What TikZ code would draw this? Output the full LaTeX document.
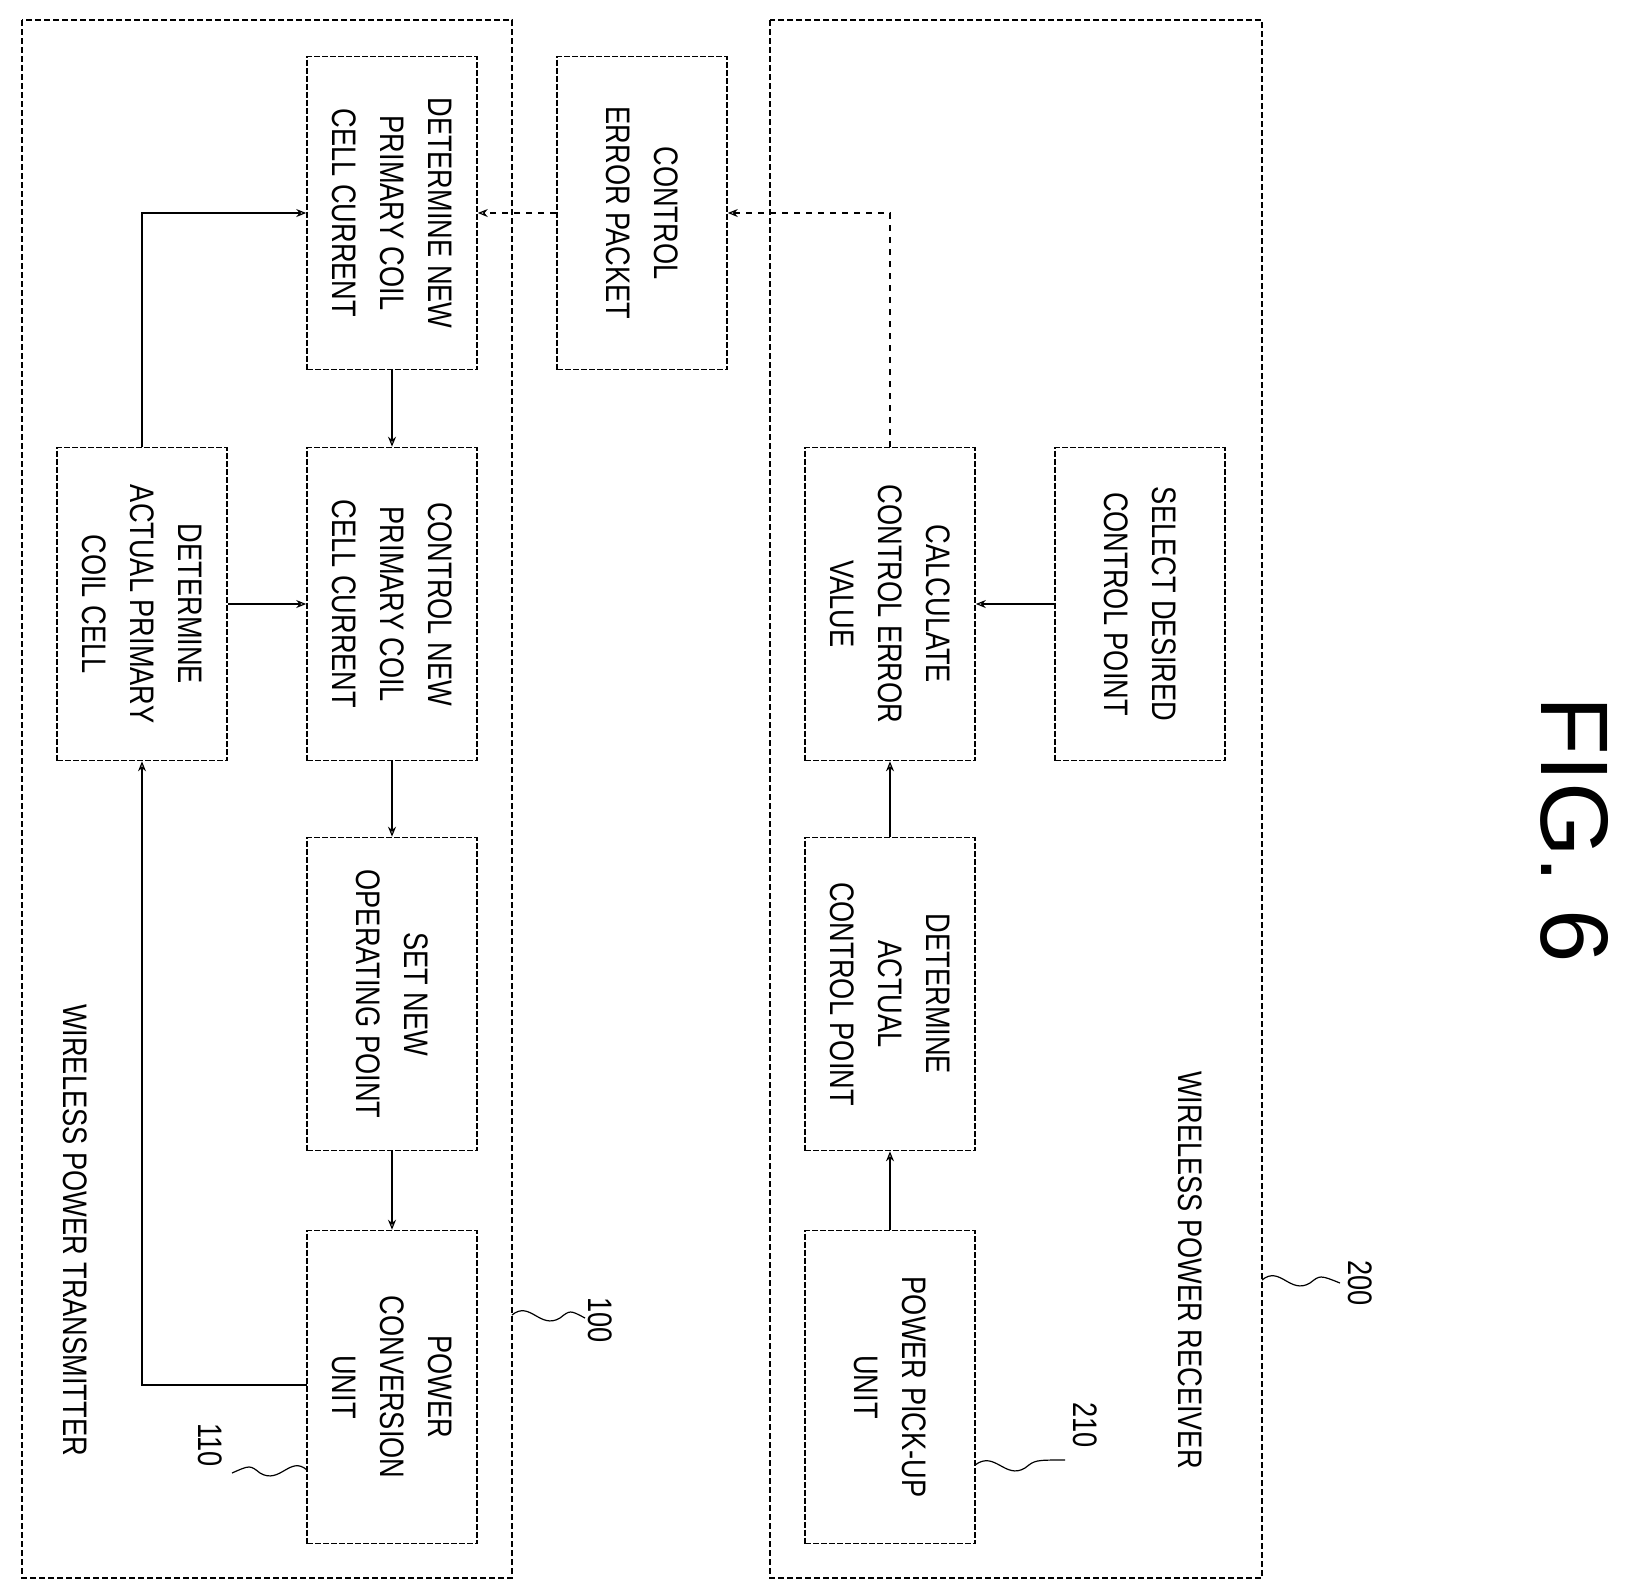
\documentclass[tikz,border=0pt]{standalone}
\usepackage{fontspec}
\setmainfont{Liberation Sans}
\usetikzlibrary{arrows.meta}
\begin{document}
\begin{tikzpicture}[x=0.5pt,y=-0.5pt,
 box/.style={draw,dashed,dash pattern=on 3pt off 1pt,line width=0.8pt,minimum width=85pt,minimum height=156.5pt,inner sep=0},
 txt/.style={rotate=-90,align=center,font=\fontsize{17}{24}\selectfont\addfontfeature{FakeStretch=0.8}},
 arr/.style={-{Stealth[open,length=5pt,width=4pt]},line width=0.6pt},
 outer/.style={draw,dashed,dash pattern=on 3pt off 1.5pt,line width=0.7pt}]
\useasboundingbox (0,0) rectangle (1637,1592);
\draw[outer] (22,20) rectangle (512,1578);
\draw[outer] (770,20) rectangle (1262,1578);
\node[box] (dn) at (392,213) {};
\node[txt] at (dn) {DETERMINE NEW\\PRIMARY COIL\\CELL CURRENT};
\node[box] (cep) at (642,213) {};
\node[txt] at (cep) {CONTROL\\ERROR PACKET};
\node[box] (dap) at (142,604) {};
\node[txt] at (dap) {DETERMINE\\ACTUAL PRIMARY\\COIL CELL};
\node[box] (cn) at (392,604) {};
\node[txt] at (cn) {CONTROL NEW\\PRIMARY COIL\\CELL CURRENT};
\node[box] (sn) at (392,994) {};
\node[txt] at (sn) {SET NEW\\OPERATING POINT};
\node[box] (pc) at (392,1387) {};
\node[txt] at (pc) {POWER\\CONVERSION\\UNIT};
\node[box] (sd) at (1140,604) {};
\node[txt] at (sd) {SELECT DESIRED\\CONTROL POINT};
\node[box] (cc) at (890,604) {};
\node[txt] at (cc) {CALCULATE\\CONTROL ERROR\\VALUE};
\node[box] (da) at (890,994) {};
\node[txt] at (da) {DETERMINE\\ACTUAL\\CONTROL POINT};
\node[box] (pp) at (890,1387) {};
\node[txt] at (pp) {POWER PICK-UP\\UNIT};
\draw[arr] (pp) -- (da);
\draw[arr] (da) -- (cc);
\draw[arr] (sd) -- (cc);
\draw[arr,dashed] (cc.north) |- (cep.east);
\draw[arr,dashed] (cep) -- (dn);
\draw[arr] (dn) -- (cn);
\draw[arr] (cn) -- (sn);
\draw[arr] (sn) -- (pc);
\draw[arr] (dap) -- (cn);
\draw[arr] (dap.north) |- (dn.west);
\coordinate (pcw) at (307,1385);
\draw[arr] (pcw) -| (dap.south);
\node[rotate=-90,font=\fontsize{48}{50}\selectfont] (fig) at (1575,830) {FIG. 6};
\node[txt] (l100) at (600,1320) {100};
\node[txt] (l200) at (1360,1283) {200};
\node[txt] (l110) at (210,1445) {110};
\node[txt] (l210) at (1085,1425) {210};
\node[txt] (wt) at (75,1230) {WIRELESS POWER TRANSMITTER};
\node[txt] (wr) at (1190,1270) {WIRELESS POWER RECEIVER};
\draw[line width=0.6pt] (512,1315) .. controls (530,1300) and (540,1330) .. (560,1318) .. controls (570,1310) .. (585,1318);
\draw[line width=0.6pt] (1262,1280) .. controls (1280,1265) and (1290,1295) .. (1310,1283) .. controls (1320,1275) .. (1340,1283);
\draw[line width=0.6pt] (307,1470) .. controls (290,1455) and (280,1485) .. (260,1473) .. controls (250,1465) .. (232,1473);
\draw[line width=0.6pt] (975,1465) .. controls (995,1450) and (1005,1480) .. (1025,1468) .. controls (1035,1460) .. (1065,1460);
\end{tikzpicture}
\end{document}
